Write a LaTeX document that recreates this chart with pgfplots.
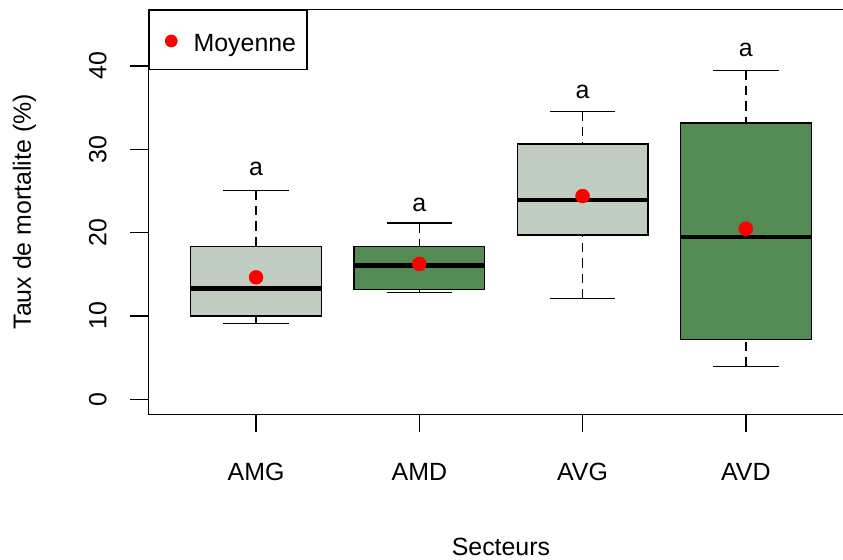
\documentclass[border=0pt]{standalone}
\usepackage{fontspec}
\setmainfont{Liberation Sans}
\usepackage{pgfplots}
\pgfplotsset{compat=1.18}
\definecolor{hd3}{RGB}{193,205,193}
\definecolor{pg4}{RGB}{84,139,84}
\newcommand\fs{\fontsize{25}{30}\selectfont}
\pgfplotsset{
  boxs/.style={forget plot, draw=black, line width=1.3bp},
  med/.style={forget plot, black, line width=4.7bp},
  whisk/.style={forget plot, black, line width=1.3bp, dash pattern=on 9.5bp off 6bp},
  cap/.style={forget plot, black, line width=1.3bp},
}
\begin{document}
\begin{tikzpicture}
\path[use as bounding box] (-148.3bp,-145.7bp) rectangle (694.7bp,414.3bp);
\clip (-148.3bp,-145.7bp) rectangle (694.7bp,414.3bp);
\begin{axis}[
  at={(0,0)}, anchor=south west,
  scale only axis, width=705.3bp, height=405bp,
  xmin=0.34, xmax=4.66, ymin=-1.8, ymax=46.8,
  axis line style={black, line width=1.3bp},
  xtick={1,2,3,4}, xticklabels={AMG,AMD,AVG,AVD},
  ytick={0,10,20,30,40},
  tick align=outside, xtick pos=bottom, ytick pos=left,
  major tick length=18bp,
  every tick/.style={black, line width=1.3bp},
  /pgf/number format/assume math mode=true,
  every tick label/.append style={font=\fs},
  yticklabel style={xshift=-24bp, rotate=90, anchor=base},
  xticklabel style={yshift=-48.4bp, anchor=base},
  every axis x label/.style={at={(axis description cs:0.5,0)}, yshift=-141bp, anchor=base, font=\fs},
  every axis y label/.style={at={(axis description cs:0,0.5)}, xshift=-117.5bp, rotate=90, anchor=base, font=\fs},
  xlabel={Secteurs}, ylabel={Taux de mortalite (\%)},
  legend style={at={(0,1)}, anchor=north west, draw=black, line width=1.3bp, font=\fs,
    inner xsep=11bp, inner ysep=0pt,
    nodes={inner sep=0pt, text height=41.4bp, text depth=18.3bp}},
  legend cell align=left,
  legend image code/.code={\path (0,-10bp) (32.4bp,10bp); \fill[red] (10.7bp,-1.2bp) circle (5.7bp);},
]
% AMG
\addplot[boxs, fill=hd3] coordinates {(0.6,9.99) (1.4,9.99) (1.4,18.33) (0.6,18.33)} -- cycle;
\addplot[whisk] coordinates {(1,25.07) (1,18.33)};
\addplot[whisk] coordinates {(1,9.1) (1,9.99)};
\addplot[cap] coordinates {(0.8,25.07) (1.2,25.07)};
\addplot[cap] coordinates {(0.8,9.1) (1.2,9.1)};
\addplot[med] coordinates {(0.6,13.27) (1.4,13.27)};
% AMD
\addplot[boxs, fill=pg4] coordinates {(1.6,13.2) (2.4,13.2) (2.4,18.33) (1.6,18.33)} -- cycle;
\addplot[whisk] coordinates {(2,21.14) (2,18.33)};
\addplot[whisk] coordinates {(2,12.79) (2,13.2)};
\addplot[cap] coordinates {(1.8,21.14) (2.2,21.14)};
\addplot[cap] coordinates {(1.8,12.79) (2.2,12.79)};
\addplot[med] coordinates {(1.6,16.04) (2.4,16.04)};
% AVG
\addplot[boxs, fill=hd3] coordinates {(2.6,19.7) (3.4,19.7) (3.4,30.64) (2.6,30.64)} -- cycle;
\addplot[whisk] coordinates {(3,34.57) (3,30.64)};
\addplot[whisk] coordinates {(3,12.07) (3,19.7)};
\addplot[cap] coordinates {(2.8,34.57) (3.2,34.57)};
\addplot[cap] coordinates {(2.8,12.07) (3.2,12.07)};
\addplot[med] coordinates {(2.6,23.9) (3.4,23.9)};
% AVD
\addplot[boxs, fill=pg4] coordinates {(3.6,7.18) (4.4,7.18) (4.4,33.17) (3.6,33.17)} -- cycle;
\addplot[whisk] coordinates {(4,39.47) (4,33.17)};
\addplot[whisk] coordinates {(4,3.93) (4,7.18)};
\addplot[cap] coordinates {(3.8,39.47) (4.2,39.47)};
\addplot[cap] coordinates {(3.8,3.93) (4.2,3.93)};
\addplot[med] coordinates {(3.6,19.49) (4.4,19.49)};
% means
\addplot[only marks, mark=*, mark size=7bp, red, mark options={draw=red, fill=red}] coordinates {(1,14.64) (2,16.25) (3,24.39) (4,20.46)};
\addlegendentry{Moyenne}
\node[anchor=base, font=\fs] at (axis cs:1,26.83) {a};
\node[anchor=base, font=\fs] at (axis cs:2,22.54) {a};
\node[anchor=base, font=\fs] at (axis cs:3,36.06) {a};
\node[anchor=base, font=\fs] at (axis cs:4,41.19) {a};
\end{axis}
\end{tikzpicture}
\end{document}
